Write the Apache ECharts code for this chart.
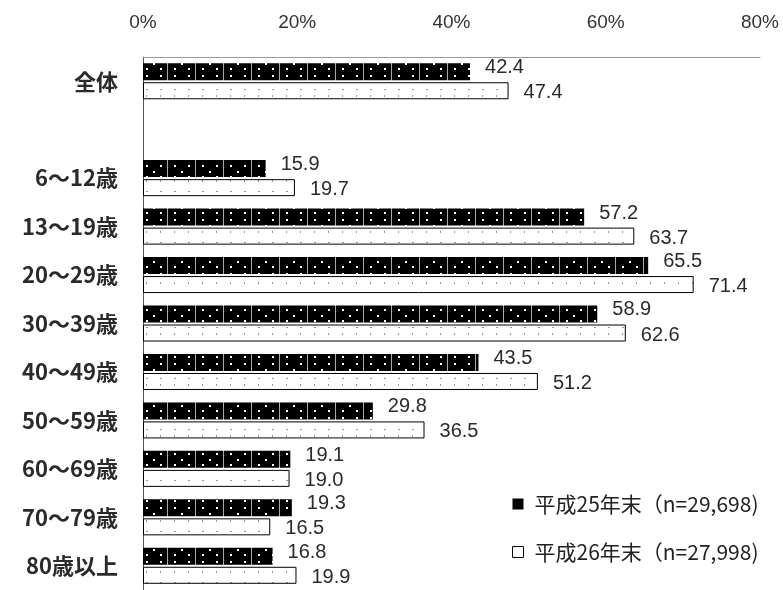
<!DOCTYPE html>
<html>
<head>
<meta charset="utf-8">
<script src="https://cdn.jsdelivr.net/npm/echarts@6/dist/echarts.min.js"></script>
<style>
  html, body { margin: 0; padding: 0; background: #fff; }
  #main { width: 783px; height: 590px; }
</style>
</head>
<body>
<div id="main"></div>
<script>
// 年齢階層（空の行は全体との間のすき間）
const categories = ["全体", "", "6～12歳", "13～19歳", "20～29歳", "30～39歳", "40～49歳", "50～59歳", "60～69歳", "70～79歳", "80歳以上"];
const seriesNames = ["平成25年末（n=29,698)", "平成26年末（n=27,998)"];
const h25 = [42.4, null, 15.9, 57.2, 65.5, 58.9, 43.5, 29.8, 19.1, 19.3, 16.8];
const h26 = [47.4, null, 19.7, 63.7, 71.4, 62.6, 51.2, 36.5, 19.0, 16.5, 19.9];
const xTicks = [0, 20, 40, 60, 80];

const FONT = '"Noto Sans CJK JP", "Noto Sans", sans-serif';
const NUMFONT = '"Liberation Sans", Arial, sans-serif';

// 黒地に白い点の模様
const makeBlackPattern = () => {
  const c = document.createElement("canvas");
  c.width = 28;
  c.height = 18;
  const g = c.getContext("2d");
  g.fillStyle = "#000";
  g.fillRect(0, 0, 28, 18);
  g.fillStyle = "#aaa";
  g.fillRect(27, 0, 1, 18);
  g.fillStyle = "#fff";
  g.fillRect(6, 3, 2, 2);
  g.fillRect(20, 3, 2, 2);
  g.fillRect(13, 9, 2, 2);
  g.fillRect(6, 14, 2, 2);
  g.fillRect(20, 14, 2, 2);
  return c;
};

// 白地に灰色の点の模様
const makeWhitePattern = () => {
  const c = document.createElement("canvas");
  c.width = 14;
  c.height = 17;
  const g = c.getContext("2d");
  g.fillStyle = "#fff";
  g.fillRect(0, 0, 14, 17);
  g.fillStyle = "#999";
  g.fillRect(6, 4, 2, 1);
  g.fillRect(6, 10, 1, 2);
  return c;
};

const chart = echarts.init(document.getElementById("main"));
chart.setOption({
  animation: false,
  backgroundColor: "#fff",
  grid: { left: 143, right: 23, top: 57, bottom: -4, containLabel: false },
  legend: {
    orient: "vertical",
    left: 507,
    top: 487,
    itemGap: 24,
    itemWidth: 11,
    itemHeight: 11,
    icon: "rect",
    textStyle: {
      fontFamily: FONT,
      fontSize: 21,
      lineHeight: 24,
      color: "#222",
      padding: [0, 0, 0, 6],
    },
    data: [
      { name: seriesNames[0], itemStyle: { color: "#000", borderWidth: 0 } },
      { name: seriesNames[1], itemStyle: { color: "#fff", borderColor: "#000", borderWidth: 1 } },
    ],
  },
  xAxis: {
    type: "value",
    position: "top",
    min: 0,
    max: 80,
    interval: 20,
    axisLine: { show: true, lineStyle: { color: "#999", width: 1 } },
    axisTick: { show: false },
    splitLine: { show: false },
    axisLabel: {
      margin: 25,
      fontFamily: NUMFONT,
      fontSize: 19,
      color: "#333",
      formatter: (v) => (xTicks.includes(v) ? v + "%" : ""),
    },
  },
  yAxis: {
    type: "category",
    inverse: true,
    data: categories,
    axisLine: { show: true, lineStyle: { color: "#555", width: 1 } },
    axisTick: { show: false },
    axisLabel: {
      margin: 25,
      fontFamily: FONT,
      fontSize: 22,
      fontWeight: "bold",
      color: "#2a2a2a",
    },
  },
  series: [
    {
      name: seriesNames[0],
      type: "bar",
      data: h25,
      barWidth: 17,
      barGap: "12%",
      itemStyle: { color: { image: makeBlackPattern(), repeat: "repeat" } },
      label: {
        show: true,
        position: "right",
        distance: 15,
        offset: [0, -4],
        fontFamily: NUMFONT,
        fontSize: 20,
        color: "#2a2a2a",
        formatter: (p) => p.value.toFixed(1),
      },
    },
    {
      name: seriesNames[1],
      type: "bar",
      data: h26,
      barWidth: 17,
      itemStyle: {
        color: { image: makeWhitePattern(), repeat: "repeat" },
        borderColor: "#000",
        borderWidth: 1,
      },
      label: {
        show: true,
        position: "right",
        distance: 15,
        offset: [0, 2],
        fontFamily: NUMFONT,
        fontSize: 20,
        color: "#2a2a2a",
        formatter: (p) => p.value.toFixed(1),
      },
    },
  ],
});
</script>
</body>
</html>
